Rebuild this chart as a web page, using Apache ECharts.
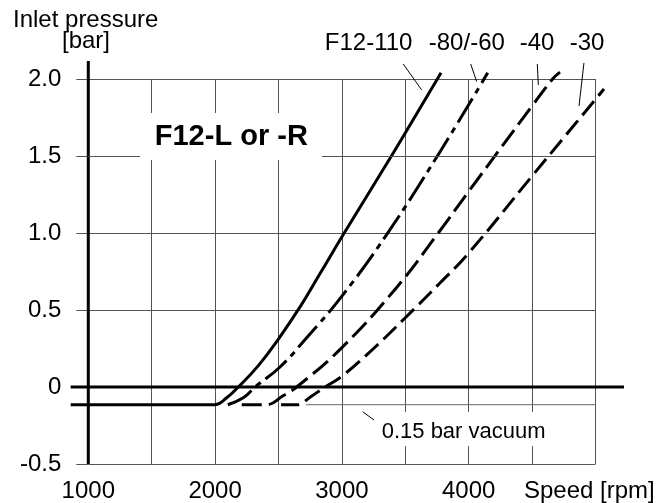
<!DOCTYPE html>
<html><head><meta charset="utf-8">
<script src="https://cdn.jsdelivr.net/npm/echarts@6/dist/echarts.min.js"></script>
<style>html,body{margin:0;padding:0;background:#fff}#c{width:668px;height:503px}</style>
</head><body><div id="c"></div>
<script>
// ---- data (rpm, bar) ----
const xTicks = [1000, 2000, 3000, 4000];
const yTicks = [-0.5, 0, 0.5, 1.0, 1.5, 2.0];
const vacuum = -0.115;

const f110X = [861, 2000, 2091, 2183, 2341, 2498, 2670, 2830, 3011, 3405, 3782];
const f110Y = [vacuum, vacuum, -0.07, 0, 0.139, 0.31, 0.52, 0.74, 0.99, 1.52, 2.04];

const f80X = [2100, 2222, 2315, 2512, 2722, 3000, 3353, 3768, 4150];
const f80Y = [vacuum, -0.07, 0, 0.13, 0.32, 0.59, 0.99, 1.52, 2.04];

const f40X = [2210, 2420, 2530, 2643, 3000, 3425, 3760, 4000, 4500, 4662, 4720];
const f40Y = [vacuum, vacuum, -0.06, 0, 0.256, 0.64, 1.0, 1.27, 1.825, 2.0, 2.045];

const f30X = [2520, 2655, 2760, 2867, 3000, 3250, 3500, 3773, 4000, 4500, 4746, 5067];
const f30Y = [vacuum, vacuum, -0.06, 0, 0.07, 0.25, 0.45, 0.675, 0.87, 1.37, 1.615, 1.935];

const zeroLineX = [861, 5225];
const zeroLineY = [0, 0];
const axisExtX = [1000, 1000];
const axisExtY = [-0.5, 2.117];
const vacThinX = [2717, 5000];
const vacThinY = [vacuum, vacuum];

// leader lines [x1, y1, x2, y2] in data units
const leaders = [
  [3484, 2.097, 3629, 1.929],
  [4016, 2.097, 4063, 1.983],
  [4541, 2.097, 4549, 1.961],
  [4909, 2.105, 4870, 1.825],
  [3164, -0.161, 3253, -0.214]
];

const seriesLabels = ['F12-110', '-80/-60', '-40', '-30'];

const FONT = '"Liberation Sans", Arial, sans-serif';
const chart = echarts.init(document.getElementById('c'), null, {renderer: 'canvas'});

// polyline drawn through the cartesian scales (api.coord), never clipped at the grid edge
function poly(name, xs, ys, width, dash, color, smooth, z) {
  return {
    type: 'custom', name: name, coordinateSystem: 'cartesian2d', clip: false, silent: true,
    animation: false, z: z || 3,
    data: xs.map((x, i) => [x, ys[i]]),
    encode: {x: 0, y: 1},
    renderItem: function (params, api) {
      if (params.dataIndex !== 0) return null;
      const pts = xs.map((x, i) => api.coord([x, ys[i]]));
      const mn = [Math.min.apply(null, pts.map(p => p[0])), Math.min.apply(null, pts.map(p => p[1]))];
      const mx = [Math.max.apply(null, pts.map(p => p[0])), Math.max.apply(null, pts.map(p => p[1]))];
      return {
        type: 'polyline', silent: true,
        shape: {points: pts, smooth: smooth || 0, smoothConstraint: [mn, mx]},
        style: {fill: null, stroke: color || '#000', lineWidth: width,
          lineDash: dash || null, lineCap: 'butt', lineJoin: 'round'}
      };
    }
  };
}

const series = [
  poly('axis', axisExtX, axisExtY, 3, null, '#000', 0, 4),
  poly('zero', zeroLineX, zeroLineY, 3, null, '#000', 0, 4),
  poly('vacuum', vacThinX, vacThinY, 1, null, '#666', 0, 2),
  poly(seriesLabels[0], f110X, f110Y, 3, null, '#000', 0.45, 3),
  poly(seriesLabels[1], f80X, f80Y, 3, [28, 6, 6, 6], '#000', 0.45, 3),
  poly(seriesLabels[2], f40X, f40Y, 3, [20, 7], '#000', 0.45, 3),
  poly(seriesLabels[3], f30X, f30Y, 3, [18, 7], '#000', 0.45, 3),
  // 1.5 gridline redrawn above the white label box
  {type: 'line', data: [], z: 60, silent: true, animation: false,
   markLine: {silent: true, symbol: 'none', animation: false, label: {show: false},
     lineStyle: {color: '#555', width: 1, type: 'solid'}, data: [{yAxis: yTicks[4]}]}}
];
leaders.forEach((l, i) => series.push(poly('leader' + i, [l[0], l[2]], [l[1], l[3]], 1, null, '#000', 0, 3)));

function txt(text, x, y, size, align, bold) {
  return {type: 'text', x: x, y: y, z: 100, silent: true,
    style: {text: text, fontSize: size, fontFamily: FONT, fontWeight: bold ? 'bold' : 'normal', fill: '#000',
      textAlign: align, align: align, textVerticalAlign: 'middle', verticalAlign: 'middle'}};
}

chart.setOption({
  animation: false,
  backgroundColor: '#fff',
  grid: {left: 88.3, top: 79, width: 507.2, height: 386, containLabel: false},
  xAxis: {
    type: 'value', min: 1000, max: 5000, interval: 500,
    axisLine: {show: false}, axisTick: {show: false},
    axisLabel: {margin: 15, fontSize: 24, fontFamily: FONT, color: '#000',
      formatter: v => (xTicks.indexOf(v) >= 0 ? String(v) : '')},
    splitLine: {show: true, lineStyle: {color: '#555', width: 1}}
  },
  yAxis: {
    type: 'value', min: -0.5, max: 2.0, interval: 0.5,
    axisLine: {show: false},
    axisTick: {show: true, length: 12, lineStyle: {color: '#555', width: 1}},
    axisLabel: {margin: 27, fontSize: 24, fontFamily: FONT, color: '#000',
      formatter: v => (v === 0 ? '0' : v.toFixed(1))},
    splitLine: {show: true, lineStyle: {color: '#555', width: 1}}
  },
  graphic: [
    {type: 'rect', z: 50, silent: true, shape: {x: 140, y: 113, width: 182, height: 47}, style: {fill: '#fff'}},
    {type: 'rect', z: 50, silent: true, shape: {x: 376, y: 412, width: 176, height: 34}, style: {fill: '#fff'}},
    txt('Inlet pressure', 13, 20, 24, 'left'),
    txt('[bar]', 86, 41, 24, 'center'),
    txt(seriesLabels[0], 368.6, 43.4, 24, 'center'),
    txt(seriesLabels[1], 466.8, 43.4, 24, 'center'),
    txt(seriesLabels[2], 537, 43.4, 24, 'center'),
    txt(seriesLabels[3], 587, 43.4, 24, 'center'),
    txt('F12-L or -R', 231.3, 136.6, 29, 'center', true),
    txt('0.15 bar vacuum', 381.7, 432.4, 22, 'left'),
    txt('Speed [rpm]', 524, 491.7, 24, 'left')
  ],
  series: series
});
</script></body></html>
